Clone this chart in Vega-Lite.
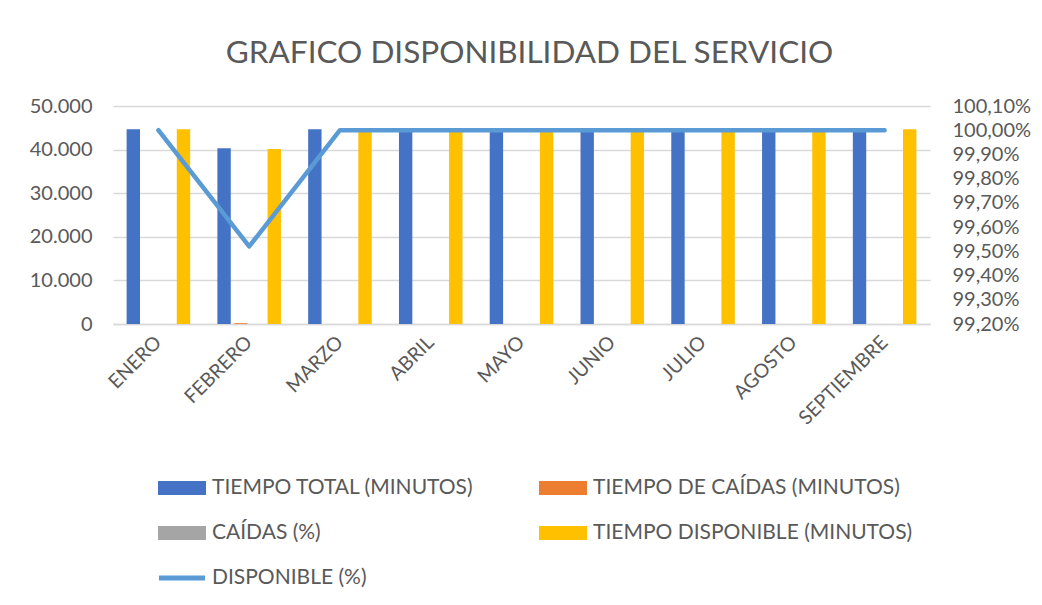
{
  "$schema": "https://vega.github.io/schema/vega-lite/v6.json",
  "width": 817,
  "height": 218,
  "autosize": {"type": "none"},
  "padding": {"left": 113, "top": 106, "right": 112, "bottom": 281},
  "background": "white",
  "title": {
    "text": "GRAFICO DISPONIBILIDAD DEL SERVICIO",
    "fontSize": 31.5,
    "font": "Lato",
    "fontWeight": "normal",
    "color": "#595959",
    "offset": 27,
    "dx": 8,
    "anchor": "middle"
  },
  "config": {
    "view": {"stroke": null},
    "font": "Lato",
    "locale": {"number": {"decimal": ",", "thousands": ".", "grouping": [3], "currency": ["", " €"]}}
  },
  "datasets": {
    "barras": [
      {"mes": "ENERO", "serie": "TIEMPO TOTAL (MINUTOS)", "valor": 44640},
      {"mes": "ENERO", "serie": "TIEMPO DE CAÍDAS (MINUTOS)", "valor": 0},
      {"mes": "ENERO", "serie": "CAÍDAS (%)", "valor": 0},
      {"mes": "ENERO", "serie": "TIEMPO DISPONIBLE (MINUTOS)", "valor": 44640},
      {"mes": "FEBRERO", "serie": "TIEMPO TOTAL (MINUTOS)", "valor": 40320},
      {"mes": "FEBRERO", "serie": "TIEMPO DE CAÍDAS (MINUTOS)", "valor": 194},
      {"mes": "FEBRERO", "serie": "CAÍDAS (%)", "valor": 0.0048},
      {"mes": "FEBRERO", "serie": "TIEMPO DISPONIBLE (MINUTOS)", "valor": 40126},
      {"mes": "MARZO", "serie": "TIEMPO TOTAL (MINUTOS)", "valor": 44640},
      {"mes": "MARZO", "serie": "TIEMPO DE CAÍDAS (MINUTOS)", "valor": 0},
      {"mes": "MARZO", "serie": "CAÍDAS (%)", "valor": 0},
      {"mes": "MARZO", "serie": "TIEMPO DISPONIBLE (MINUTOS)", "valor": 44640},
      {"mes": "ABRIL", "serie": "TIEMPO TOTAL (MINUTOS)", "valor": 44640},
      {"mes": "ABRIL", "serie": "TIEMPO DE CAÍDAS (MINUTOS)", "valor": 0},
      {"mes": "ABRIL", "serie": "CAÍDAS (%)", "valor": 0},
      {"mes": "ABRIL", "serie": "TIEMPO DISPONIBLE (MINUTOS)", "valor": 44640},
      {"mes": "MAYO", "serie": "TIEMPO TOTAL (MINUTOS)", "valor": 44640},
      {"mes": "MAYO", "serie": "TIEMPO DE CAÍDAS (MINUTOS)", "valor": 0},
      {"mes": "MAYO", "serie": "CAÍDAS (%)", "valor": 0},
      {"mes": "MAYO", "serie": "TIEMPO DISPONIBLE (MINUTOS)", "valor": 44640},
      {"mes": "JUNIO", "serie": "TIEMPO TOTAL (MINUTOS)", "valor": 44640},
      {"mes": "JUNIO", "serie": "TIEMPO DE CAÍDAS (MINUTOS)", "valor": 0},
      {"mes": "JUNIO", "serie": "CAÍDAS (%)", "valor": 0},
      {"mes": "JUNIO", "serie": "TIEMPO DISPONIBLE (MINUTOS)", "valor": 44640},
      {"mes": "JULIO", "serie": "TIEMPO TOTAL (MINUTOS)", "valor": 44640},
      {"mes": "JULIO", "serie": "TIEMPO DE CAÍDAS (MINUTOS)", "valor": 0},
      {"mes": "JULIO", "serie": "CAÍDAS (%)", "valor": 0},
      {"mes": "JULIO", "serie": "TIEMPO DISPONIBLE (MINUTOS)", "valor": 44640},
      {"mes": "AGOSTO", "serie": "TIEMPO TOTAL (MINUTOS)", "valor": 44640},
      {"mes": "AGOSTO", "serie": "TIEMPO DE CAÍDAS (MINUTOS)", "valor": 0},
      {"mes": "AGOSTO", "serie": "CAÍDAS (%)", "valor": 0},
      {"mes": "AGOSTO", "serie": "TIEMPO DISPONIBLE (MINUTOS)", "valor": 44640},
      {"mes": "SEPTIEMBRE", "serie": "TIEMPO TOTAL (MINUTOS)", "valor": 44640},
      {"mes": "SEPTIEMBRE", "serie": "TIEMPO DE CAÍDAS (MINUTOS)", "valor": 0},
      {"mes": "SEPTIEMBRE", "serie": "CAÍDAS (%)", "valor": 0},
      {"mes": "SEPTIEMBRE", "serie": "TIEMPO DISPONIBLE (MINUTOS)", "valor": 44640}
    ],
    "linea": [
      {"mes": "ENERO", "serie": "DISPONIBLE (%)", "disp": 1.0},
      {"mes": "FEBRERO", "serie": "DISPONIBLE (%)", "disp": 0.9952},
      {"mes": "MARZO", "serie": "DISPONIBLE (%)", "disp": 1.0},
      {"mes": "ABRIL", "serie": "DISPONIBLE (%)", "disp": 1.0},
      {"mes": "MAYO", "serie": "DISPONIBLE (%)", "disp": 1.0},
      {"mes": "JUNIO", "serie": "DISPONIBLE (%)", "disp": 1.0},
      {"mes": "JULIO", "serie": "DISPONIBLE (%)", "disp": 1.0},
      {"mes": "AGOSTO", "serie": "DISPONIBLE (%)", "disp": 1.0},
      {"mes": "SEPTIEMBRE", "serie": "DISPONIBLE (%)", "disp": 1.0}
    ]
  },
  "layer": [
    {
      "data": {"name": "barras"},
      "mark": {"type": "bar"},
      "encoding": {
        "x": {
          "field": "mes",
          "type": "nominal",
          "sort": ["ENERO", "FEBRERO", "MARZO", "ABRIL", "MAYO", "JUNIO", "JULIO", "AGOSTO", "SEPTIEMBRE"],
          "scale": {"paddingInner": 0.3, "paddingOuter": 0.15},
          "axis": {
            "title": null,
            "labelAngle": -45,
            "labelAlign": "right",
            "labelBaseline": "middle",
            "labelFontSize": 19.5,
            "labelColor": "#595959",
            "labelPadding": 15,
            "ticks": false,
            "domainColor": "#D9D9D9",
            "domainWidth": 1.5
          }
        },
        "xOffset": {
          "field": "serie",
          "type": "nominal",
          "sort": ["TIEMPO TOTAL (MINUTOS)", "TIEMPO DE CAÍDAS (MINUTOS)", "CAÍDAS (%)", "TIEMPO DISPONIBLE (MINUTOS)"],
          "scale": {"paddingInner": 0.2, "paddingOuter": 0}
        },
        "y": {
          "field": "valor",
          "type": "quantitative",
          "scale": {"domain": [0, 50000], "nice": false},
          "axis": {
            "title": null,
            "values": [0, 10000, 20000, 30000, 40000, 50000],
            "format": ",.0f",
            "labelFontSize": 20,
            "labelColor": "#595959",
            "labelPadding": 21,
            "ticks": false,
            "domain": false,
            "gridColor": "#D9D9D9",
            "gridWidth": 1.5
          }
        },
        "color": {
          "field": "serie",
          "type": "nominal",
          "scale": {
            "domain": ["TIEMPO TOTAL (MINUTOS)", "TIEMPO DE CAÍDAS (MINUTOS)", "CAÍDAS (%)", "TIEMPO DISPONIBLE (MINUTOS)", "DISPONIBLE (%)"],
            "range": ["#4472C4", "#ED7D31", "#A5A5A5", "#FFC000", "#5B9BD5"]
          },
          "legend": {
            "orient": "none",
            "legendX": 45,
            "legendY": 358,
            "direction": "horizontal",
            "columns": 2,
            "title": null,
            "labelFontSize": 21,
            "labelColor": "#595959",
            "labelFont": "Lato",
            "labelLimit": 0,
            "symbolSize": 2304,
            "labelOffset": 6,
            "columnPadding": 65,
            "rowPadding": 11,
            "encode": {
              "symbols": {
                "update": {
                  "shape": {"signal": "datum.value === 'DISPONIBLE (%)' ? 'M-0.96,-0.1L0.96,-0.1L0.96,0.1L-0.96,0.1Z' : 'M-1,-0.29L1,-0.29L1,0.29L-1,0.29Z'"},
                  "fill": {"signal": "scale('color', datum.value)"},
                  "strokeWidth": {"value": 0},
                  "opacity": {"value": 1}
                }
              }
            }
          }
        }
      }
    },
    {
      "data": {"name": "linea"},
      "mark": {"type": "line", "strokeWidth": 4.5, "strokeCap": "round", "strokeJoin": "round"},
      "encoding": {
        "x": {
          "field": "mes",
          "type": "nominal",
          "sort": ["ENERO", "FEBRERO", "MARZO", "ABRIL", "MAYO", "JUNIO", "JULIO", "AGOSTO", "SEPTIEMBRE"]
        },
        "y": {
          "field": "disp",
          "type": "quantitative",
          "scale": {"domain": [0.992, 1.001], "nice": false, "zero": false},
          "axis": {
            "orient": "right",
            "title": null,
            "values": [0.992, 0.993, 0.994, 0.995, 0.996, 0.997, 0.998, 0.999, 1.0, 1.001],
            "format": ".2%",
            "labelFontSize": 20,
            "labelColor": "#595959",
            "labelPadding": 22,
            "ticks": false,
            "domain": false,
            "grid": false
          }
        },
        "color": {"field": "serie", "type": "nominal"}
      }
    }
  ],
  "resolve": {"scale": {"y": "independent"}}
}
